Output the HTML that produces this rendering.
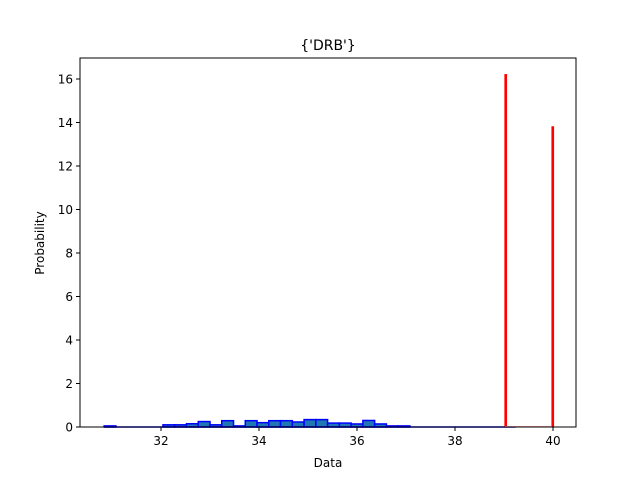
<!DOCTYPE html>
<html><head><meta charset="utf-8"><style>body{margin:0;background:#fff}svg{display:block;font-family:"DejaVu Sans","Liberation Sans",sans-serif}</style></head>
<body>
<svg id="chart" width="640" height="480"></svg>
<script>
const blueStart = 30.84;
const blueWidth = 0.24;
const blueValues = [0.05,0,0,0,0,0.1,0.1,0.15,0.25,0.1,0.29,0.05,0.29,0.2,0.29,0.29,0.23,0.34,0.34,0.18,0.18,0.14,0.3,0.14,0.05,0.05,0,0,0,0,0,0,0,0,0];
const redLefts = [39.02, 39.98];
const redWidth = 0.03;
const redValues = [16.2, 13.8];
const xTicks = [32,34,36,38,40];
const yTicks = [0,2,4,6,8,10,12,14,16];
const L=80,R=576,T=58,B=427;
const xs=v=>161+(v-32)*49;
const ys=v=>B-v*21.75;
const svg=document.getElementById('chart');
const NS='http://www.w3.org/2000/svg';
function mk(t,a,p){const e=document.createElementNS(NS,t);for(const k in a)e.setAttribute(k,a[k]);(p||svg).appendChild(e);return e;}
let e;
e=mk('rect',{x:L,y:T,width:R-L,height:B-T,fill:'#fff'});


blueValues.forEach((v,i)=>{if(v<=0)return;const x0=xs(blueStart+i*blueWidth),x1=xs(blueStart+(i+1)*blueWidth);
const r=mk('rect',{x:x0,y:ys(v),width:x1-x0,height:B-ys(v),fill:'#1f77b4',stroke:'#0000ff','stroke-width':1.5});

});
mk('line',{x1:xs(blueStart),x2:xs(blueStart+blueValues.length*blueWidth),y1:B,y2:B,stroke:'#0000ff','stroke-width':1.5});
redLefts.forEach((l,i)=>{const x0=xs(l),x1=xs(l+redWidth);
const r=mk('rect',{x:x0,y:ys(redValues[i]),width:x1-x0,height:B-ys(redValues[i]),fill:'#ff0000',stroke:'#ff0000','stroke-width':1.2});

});
mk('line',{x1:xs(redLefts[0]),x2:xs(redLefts[1]),y1:B-0.5,y2:B-0.5,stroke:'#ffaaaa','stroke-width':1});
e=mk('rect',{x:L,y:T,width:R-L,height:B-T,fill:'none',stroke:'#000','stroke-width':1});


xTicks.forEach(t=>{mk('line',{x1:xs(t),x2:xs(t),y1:B,y2:B+4,stroke:'#000'});
const tx=mk('text',{x:xs(t),y:B+18,'font-size':12,'text-anchor':'middle'});tx.textContent=t;

});
yTicks.forEach(t=>{mk('line',{x1:L-4,x2:L,y1:ys(t),y2:ys(t),stroke:'#000'});
const tx=mk('text',{x:L-7,y:ys(t)+4.5,'font-size':12,'text-anchor':'end'});tx.textContent=t;

});
e=mk('text',{x:328,y:467,'font-size':12,'text-anchor':'middle'});e.textContent='Data';


e=mk('text',{x:44,y:243,'font-size':12,'text-anchor':'middle',transform:'rotate(-90 44 243)'});e.textContent='Probability';


e=mk('text',{x:328,y:50,'font-size':14,'text-anchor':'middle'});e.textContent="{'DRB'}";


</script>
</body></html>
